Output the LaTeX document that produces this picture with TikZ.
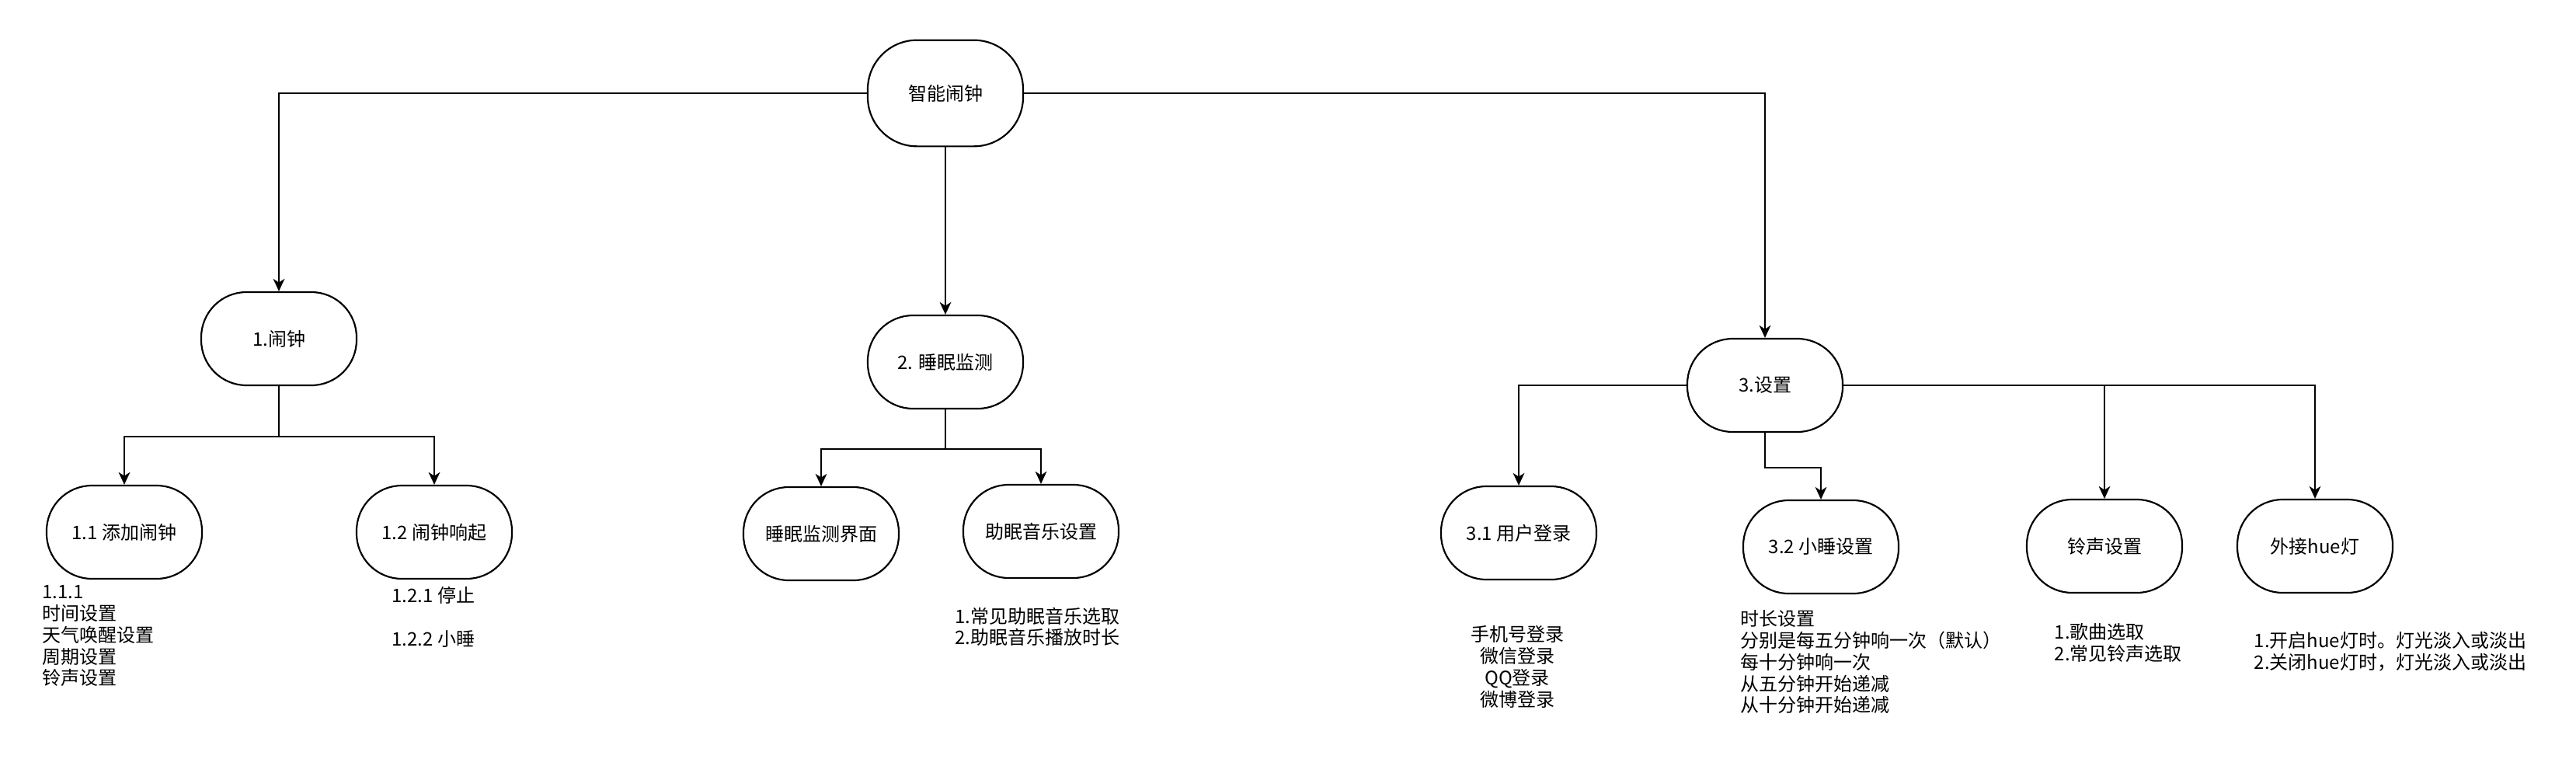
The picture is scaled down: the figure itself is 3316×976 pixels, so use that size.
\documentclass[tikz,border=0pt]{standalone}
\usepackage{fontspec}
\setmainfont{Noto Sans CJK SC}
\usetikzlibrary{arrows.meta}

\begin{document}
\begin{tikzpicture}[x=0.3pt,y=-0.3pt,>={Stealth[length=4.8pt,width=4.4pt,inset=1.4pt]},
    every node/.style={font=\fontsize{7.2}{8.34}\selectfont},
    box/.style={draw,line width=0.65pt,rounded corners=17.5pt,minimum width=60pt,minimum height=36pt,inner sep=0pt},
    note/.style={inner sep=0pt,anchor=north west,align=left},
    link/.style={->,line width=0.65pt}]
            \useasboundingbox (0,0) rectangle (3316,976);

            \node[box,minimum height=41pt,rounded corners=19pt] (root) at (1217,120) {智能闹钟};
            \node[box] (alarm) at (359,436) {1.闹钟};
            \node[box] (sleep) at (1217,466) {2. 睡眠监测};
            \node[box] (setting) at (2272,496) {3.设置};

            \node[box] (addalarm) at (160,685) {1.1 添加闹钟};
            \node[box] (ringing) at (559,685) {1.2 闹钟响起};
            \node[box] (monitor) at (1057,687) {睡眠监测界面};
            \node[box] (music) at (1340,684) {助眠音乐设置};
            \node[box] (login) at (1955,686) {3.1 用户登录};
            \node[box] (nap) at (2344,704) {3.2 小睡设置};
            \node[box] (tone) at (2709,703) {铃声设置};
            \node[box] (hue) at (2980,703) {外接hue灯};

            \draw[link] (root.west) -| (alarm.north);
            \draw[link] (root.south) -- (sleep.north);
            \draw[link] (root.east) -| (setting.north);
            \draw[link] (alarm.south) -- ++(0,65) -| (addalarm.north);
            \draw[link] (alarm.south) -- ++(0,65) -| (ringing.north);
            \draw[link] (sleep.south) -- ++(0,51) -| (monitor.north);
            \draw[link] (sleep.south) -- ++(0,51) -| (music.north);
            \draw[link] (setting.west) -| (login.north);
            \draw[link] (setting.south) -- ++(0,45) -| (nap.north);
            \draw[link] (setting.east) -| (tone.north);
            \draw[link] (setting.east) -| (hue.north);

            \node[note] (addnote) at (54,753) {1.1.1\\时间设置\\天气唤醒设置\\周期设置\\铃声设置};
            \node[note,anchor=north,align=center] (ringnote) at (558,755) {1.2.1 停止\\[8.34pt]1.2.2 小睡};
            \node[note,anchor=north,align=center] (musicnote) at (1335,781) {1.常见助眠音乐选取\\2.助眠音乐播放时长};
            \node[note,anchor=north,align=center] (loginnote) at (1953,805) {手机号登录\\微信登录\\QQ登录\\微博登录};
            \node[note] (napnote) at (2240,785) {时长设置\\分别是每五分钟响一次（默认）\\每十分钟响一次\\从五分钟开始递减\\从十分钟开始递减};
            \node[note] (tonenote) at (2644,802) {1.歌曲选取\\2.常见铃声选取};
            \node[note] (huenote) at (2901,813) {1.开启hue灯时。灯光淡入或淡出\\2.关闭hue灯时，灯光淡入或淡出};
        \end{tikzpicture}
\end{document}
